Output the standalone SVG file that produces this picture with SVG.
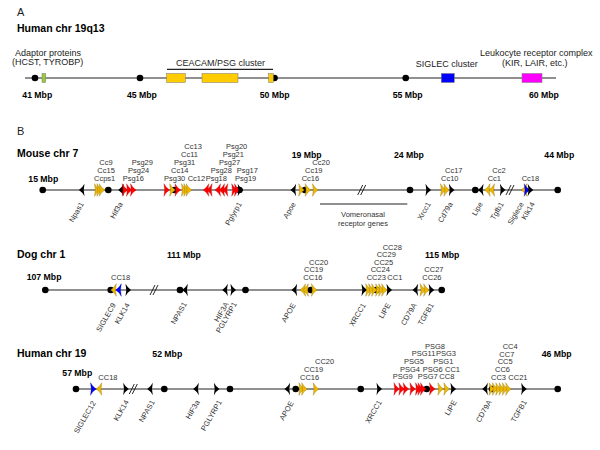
<svg xmlns="http://www.w3.org/2000/svg" xmlns:xlink="http://www.w3.org/1999/xlink" width="600" height="450" viewBox="0 0 600 450">
<style>
text{font-family:"Liberation Sans",Arial,sans-serif}
.t{font-size:7.5px;fill:#333}
.e{text-anchor:end}
.mb{font-size:8.7px;font-weight:bold;fill:#000}
.ttl{font-size:10.5px;font-weight:bold;fill:#000}
.pa{font-size:9px;fill:#222}
.chr{stroke:#222;stroke-width:1.2;fill:none}
.brk{stroke:#111;stroke-width:0.9;fill:none}
.y{fill:#EDB600;stroke:#8b6f00;stroke-width:0.35}
.r{fill:#FF0000;stroke:#a00;stroke-width:0.3}
.k{fill:#000}
.b{fill:#0000FF;stroke:#006;stroke-width:0.3}
.box{stroke:#777;stroke-width:0.5}
</style>
<defs>
<path id="R" d="M-2.8,-6.3 Q-0.5,-2 2.8,0 Q-0.5,2 -2.8,6.3 Q-1.2,0 -2.8,-6.3Z"/>
<path id="L" d="M2.8,-6.3 Q0.5,-2 -2.8,0 Q0.5,2 2.8,6.3 Q1.2,0 2.8,-6.3Z"/>
<circle id="D" r="3.3" fill="#000"/>
<path id="BR" class="brk" d="M-4,5 L1,-5 M-1,5 L4,-5"/>
</defs>

<!-- Panel A -->
<g id="panelA">
<text x="17" y="15.5" style="font-size:11px" fill="#222">A</text>
<text class="ttl" x="17" y="32">Human chr 19q13</text>
<g id="connectors-A">
<line class="chr" x1="25" y1="78" x2="556" y2="78"/>
<line class="chr" x1="167" y1="69.3" x2="273" y2="69.3"/>
</g>
<use href="#D" x="35" y="78"/>
<use href="#D" x="140" y="78"/>
<use href="#D" x="274.5" y="78"/>
<use href="#D" x="405.7" y="78"/>
<g id="adaptor"><rect class="box" x="42" y="73.5" width="3.7" height="9" fill="#99CC33"/>
<text class="pa" x="15" y="55.5">Adaptor proteins</text>
<text class="pa" x="12" y="65">(HCST, TYROBP)</text></g>
<g id="ceacam"><rect class="box" x="166.7" y="73.5" width="18.6" height="9" fill="#FFCC00"/>
<rect class="box" x="202" y="73.5" width="36" height="9" fill="#FFCC00"/>
<rect class="box" x="268.7" y="73.5" width="4.6" height="9" fill="#FFCC00"/>
<text class="pa" x="176" y="66">CEACAM/PSG cluster</text></g>
<g id="siglec"><rect class="box" x="441.3" y="73.5" width="13" height="9" fill="#0000FF"/>
<text class="pa" x="415.7" y="66.5">SIGLEC cluster</text></g>
<g id="lrc"><rect class="box" x="522" y="73.5" width="20" height="9" fill="#FF00FF"/>
<text class="pa" x="480" y="56">Leukocyte receptor complex</text>
<text class="pa" x="502" y="66">(KIR, LAIR, etc.)</text></g>
<text class="mb" x="22.3" y="97.5">41 Mbp</text>
<text class="mb" x="127" y="97.5">45 Mbp</text>
<text class="mb" x="259.7" y="97.5">50 Mbp</text>
<text class="mb" x="392.7" y="97.5">55 Mbp</text>
<text class="mb" x="529" y="97.5">60 Mbp</text>
</g>

<text x="17" y="135" style="font-size:11px" fill="#222">B</text>

<!-- Mouse chr 7 -->
<g id="mouse">
<text class="ttl" x="17" y="157">Mouse chr 7</text>
<g id="connectors-mouse">
<line class="chr" x1="42.7" y1="190" x2="557.7" y2="190"/>
<line class="chr" x1="320" y1="204" x2="407.3" y2="204"/>
<use href="#BR" x="361.7" y="190"/>
<use href="#BR" x="510" y="190"/>
</g>
<g id="mouse-dots">
<use href="#D" x="42.7" y="190"/><use href="#D" x="108.3" y="190"/><use href="#D" x="174.5" y="190"/><use href="#D" x="239.5" y="190"/>
<use href="#D" x="305" y="190"/><use href="#D" x="410" y="190"/><use href="#D" x="475.3" y="190"/><use href="#D" x="557.7" y="190"/>
</g>
<g id="mouse-genes">
<use href="#L" class="k" x="81.7" y="190"/>
<use href="#R" class="y" x="97.3" y="190"/><use href="#R" class="y" x="99.7" y="190"/><use href="#R" class="y" x="102" y="190"/>
<use href="#L" class="k" x="121" y="190"/>
<use href="#R" class="r" x="125" y="190"/><use href="#R" class="r" x="129.3" y="190"/><use href="#R" class="r" x="133.3" y="190"/>
<use href="#R" class="r" x="166.7" y="190"/><use href="#R" class="y" x="172.5" y="190"/><use href="#R" class="r" x="177.8" y="190"/>
<use href="#R" class="y" x="184.3" y="190"/><use href="#R" class="y" x="186.7" y="190"/><use href="#R" class="y" x="189" y="190"/>
<use href="#L" class="r" x="206" y="190"/><use href="#L" class="r" x="209.3" y="190"/>
<use href="#L" class="r" x="217.7" y="190"/><use href="#L" class="r" x="221.7" y="190"/><use href="#L" class="r" x="225" y="190"/>
<use href="#R" class="r" x="234.5" y="190"/><use href="#R" class="r" x="237.3" y="190"/><use href="#R" class="k" x="240.5" y="190"/>
<use href="#L" class="k" x="293.3" y="190"/>
<use href="#R" class="y" x="301.5" y="190"/><use href="#R" class="y" x="308" y="190"/><use href="#R" class="y" x="315.3" y="190"/>
<use href="#R" class="k" x="428.3" y="190"/>
<use href="#R" class="y" x="443.3" y="190"/><use href="#R" class="y" x="446.7" y="190"/><use href="#R" class="k" x="451.7" y="190"/>
<use href="#L" class="k" x="480.7" y="190"/>
<use href="#L" class="y" x="487.3" y="190"/><use href="#L" class="y" x="491.7" y="190"/>
<use href="#R" class="k" x="502.7" y="190"/>
<use href="#L" class="y" x="524" y="190"/><use href="#R" class="b" x="527" y="190"/><use href="#R" class="k" x="530.5" y="190"/>
</g>
<g id="mouse-labels">
<text class="mb" x="28.3" y="182">15 Mbp</text>
<text class="mb" x="291.7" y="157.5">19 Mbp</text>
<text class="mb" x="394" y="157.5">24 Mbp</text>
<text class="mb" x="544.3" y="157.5">44 Mbp</text>
<text class="t" x="99.3" y="165">Cc9</text><text class="t" x="97.3" y="173">Cc15</text><text class="t" x="94" y="181">Ccps1</text>
<text class="t" x="131.7" y="165">Psg29</text><text class="t" x="128" y="173">Psg24</text><text class="t" x="122.7" y="181">Psg16</text>
<text class="t" x="184.3" y="149">Cc13</text><text class="t" x="181" y="157">Cc11</text><text class="t" x="174" y="165">Psg31</text><text class="t" x="171" y="173">Cc14</text><text class="t" x="164" y="181">Psg30</text>
<text class="t" x="187.7" y="181">Cc12</text>
<text class="t" x="226" y="149">Psg20</text><text class="t" x="222.7" y="157">Psg21</text><text class="t" x="219" y="165">Psg27</text><text class="t" x="210.7" y="173">Psg28</text><text class="t" x="205.7" y="181">Psg18</text>
<text class="t" x="236.7" y="173">Psg17</text><text class="t" x="235" y="181">Psg19</text>
<text class="t" x="312.3" y="165">Cc20</text><text class="t" x="305" y="173">Cc19</text><text class="t" x="301.7" y="181">Cc16</text>
<text class="t" x="445" y="173">Cc17</text><text class="t" x="441" y="181">Cc10</text>
<text class="t" x="492.3" y="173">Cc2</text><text class="t" x="487.7" y="181">Cc1</text>
<text class="t" x="521.7" y="181">Cc18</text>
<text class="t" x="363" y="217" text-anchor="middle">Vomeronasal</text>
<text class="t" x="363" y="225.5" text-anchor="middle">receptor genes</text>
<text class="t e" transform="translate(84,204) rotate(-60)">Npas1</text>
<text class="t e" transform="translate(123,204) rotate(-60)">Hif3a</text>
<text class="t e" transform="translate(242,204) rotate(-60)">Pglyrp1</text>
<text class="t e" transform="translate(296,204) rotate(-60)">Apoe</text>
<text class="t e" transform="translate(431,204) rotate(-60)">Xrcc1</text>
<text class="t e" transform="translate(453,204) rotate(-60)">Cd79a</text>
<text class="t e" transform="translate(483,204) rotate(-60)">Lipe</text>
<text class="t e" transform="translate(504,204) rotate(-60)">Tgfb1</text>
<text class="t e" transform="translate(524,204) rotate(-60)">Siglece</text>
<text class="t e" transform="translate(535,204) rotate(-60)">Klk14</text>
</g>
</g>

<!-- Dog chr 1 -->
<g id="dog">
<text class="ttl" x="17" y="258">Dog chr 1</text>
<g id="connectors-dog">
<line class="chr" x1="45.3" y1="290" x2="441.7" y2="290"/>
<use href="#BR" x="154" y="290"/>
</g>
<g id="dog-dots">
<use href="#D" x="45.3" y="290"/><use href="#D" x="110.7" y="290"/><use href="#D" x="180" y="290"/><use href="#D" x="245.5" y="290"/>
<use href="#D" x="310.8" y="290"/><use href="#D" x="376.2" y="290"/><use href="#D" x="441.7" y="290"/>
</g>
<g id="dog-genes">
<use href="#L" class="y" x="113.5" y="290"/><use href="#L" class="b" x="118.5" y="290"/><use href="#R" class="k" x="128.3" y="290"/>
<use href="#L" class="k" x="185" y="290"/>
<use href="#L" class="k" x="225" y="290"/><use href="#R" class="k" x="233.3" y="290"/>
<use href="#L" class="k" x="294.3" y="290"/>
<use href="#L" class="y" x="302.7" y="290"/><use href="#L" class="y" x="305.5" y="290"/><use href="#R" class="y" x="314.3" y="290"/>
<use href="#R" class="k" x="364.3" y="290"/>
<use href="#R" class="y" x="368.5" y="290"/><use href="#R" class="y" x="371.5" y="290"/><use href="#R" class="y" x="374.5" y="290"/>
<use href="#R" class="y" x="378.5" y="290"/><use href="#R" class="y" x="381.5" y="290"/><use href="#R" class="y" x="384.5" y="290"/>
<use href="#R" class="k" x="389.3" y="290"/>
<use href="#L" class="k" x="415.3" y="290"/>
<use href="#R" class="y" x="423" y="290"/><use href="#R" class="y" x="426.5" y="290"/><use href="#R" class="k" x="431.5" y="290"/>
</g>
<g id="dog-labels">
<text class="mb" x="26.7" y="280">107 Mbp</text>
<text class="mb" x="167" y="258">111 Mbp</text>
<text class="mb" x="425" y="258.3">115 Mbp</text>
<text class="t" x="111" y="279.5" fill="#555">CC18</text>
<text class="t" x="309" y="264.8">CC20</text><text class="t" x="304" y="272.4">CC19</text><text class="t" x="303.3" y="280">CC16</text>
<text class="t" x="382.7" y="249.6">CC28</text><text class="t" x="376.7" y="257.2">CC29</text><text class="t" x="374" y="264.8">CC25</text><text class="t" x="370.7" y="272.4">CC24</text>
<text class="t" x="366.7" y="280">CC23</text><text class="t" x="387.3" y="280">CC1</text>
<text class="t" x="424.3" y="272.4">CC27</text><text class="t" x="422.3" y="280">CC26</text>
<text class="t e" transform="translate(116,305) rotate(-60)">SIGLEC9</text>
<text class="t e" transform="translate(130,305) rotate(-60)">KLK14</text>
<text class="t e" transform="translate(187,304) rotate(-60)">NPAS1</text>
<text class="t e" transform="translate(229,304) rotate(-60)">HIF3A</text>
<text class="t e" transform="translate(237,304) rotate(-60)">PGLYRP1</text>
<text class="t e" transform="translate(296,305) rotate(-60)">APOE</text>
<text class="t e" transform="translate(366,305) rotate(-60)">XRCC1</text>
<text class="t e" transform="translate(391,305) rotate(-60)">LIPE</text>
<text class="t e" transform="translate(417,305) rotate(-60)">CD79A</text>
<text class="t e" transform="translate(434,305) rotate(-60)">TGFB1</text>
</g>
</g>

<!-- Human chr 19 -->
<g id="human">
<text class="ttl" x="17" y="357">Human chr 19</text>
<g id="connectors-human">
<line class="chr" x1="76" y1="389" x2="557.7" y2="389"/>
<use href="#BR" x="133.3" y="389"/>
</g>
<g id="human-dots">
<use href="#D" x="76" y="389"/><use href="#D" x="164.3" y="389"/><use href="#D" x="230" y="389"/><use href="#D" x="295.7" y="389"/>
<use href="#D" x="360.7" y="389"/><use href="#D" x="426.7" y="389"/><use href="#D" x="492" y="389"/><use href="#D" x="557.7" y="389"/>
</g>
<g id="human-genes">
<use href="#R" class="b" x="93.3" y="389"/><use href="#L" class="y" x="99" y="389"/>
<use href="#R" class="k" x="126" y="389"/>
<use href="#L" class="k" x="150" y="389"/>
<use href="#L" class="k" x="196" y="389"/><use href="#R" class="k" x="216.7" y="389"/>
<use href="#L" class="k" x="287.3" y="389"/>
<use href="#R" class="y" x="301.7" y="389"/><use href="#R" class="y" x="304.5" y="389"/><use href="#R" class="y" x="316" y="389"/>
<use href="#R" class="k" x="379.3" y="389"/>
<use href="#R" class="r" x="396.7" y="389"/><use href="#R" class="r" x="401.7" y="389"/><use href="#R" class="r" x="406" y="389"/>
<use href="#R" class="r" x="412.7" y="389"/><use href="#R" class="r" x="418.3" y="389"/><use href="#R" class="r" x="420.7" y="389"/><use href="#R" class="r" x="423.3" y="389"/>
<use href="#R" class="r" x="432.3" y="389"/>
<use href="#R" class="y" x="440.7" y="389"/><use href="#R" class="y" x="446.7" y="389"/>
<use href="#R" class="k" x="453.3" y="389"/>
<use href="#L" class="k" x="485" y="389"/>
<use href="#R" class="y" x="492" y="389"/><use href="#R" class="y" x="495.3" y="389"/><use href="#R" class="y" x="498.6" y="389"/>
<use href="#R" class="y" x="501.9" y="389"/><use href="#R" class="y" x="505.2" y="389"/><use href="#R" class="y" x="508.5" y="389"/>
<use href="#R" class="k" x="524" y="389"/>
</g>
<g id="human-labels">
<text class="mb" x="152.3" y="357">52 Mbp</text>
<text class="mb" x="541.7" y="357">46 Mbp</text>
<text class="mb" x="62.3" y="376">57 Mbp</text>
<text class="t" x="98.3" y="379.5" fill="#555">CC18</text>
<text class="t" x="315" y="364">CC20</text><text class="t" x="304" y="372">CC19</text><text class="t" x="300" y="379.5">CC16</text>
<text class="t" x="425" y="348.7">PSG8</text>
<text class="t" x="411.7" y="356.3">PSG11</text><text class="t" x="436" y="356.3">PSG3</text>
<text class="t" x="404" y="364">PSG5</text><text class="t" x="433.3" y="364">PSG1</text>
<text class="t" x="400" y="371.6">PSG4</text><text class="t" x="422.7" y="371.6">PSG6</text><text class="t" x="445" y="371.6">CC1</text>
<text class="t" x="392.7" y="379.3">PSG9</text><text class="t" x="417.7" y="379.3">PSG7</text><text class="t" x="439.3" y="379.3">CC8</text>
<text class="t" x="502.7" y="349">CC4</text><text class="t" x="499.3" y="356.5">CC7</text><text class="t" x="497.7" y="364">CC5</text>
<text class="t" x="495" y="372">CC6</text><text class="t" x="491" y="379.5">CC3</text><text class="t" x="508.3" y="379.5">CC21</text>
<text class="t e" transform="translate(96,403) rotate(-60)">SIGLEC12</text>
<text class="t e" transform="translate(129,402) rotate(-60)">KLK14</text>
<text class="t e" transform="translate(155,402) rotate(-60)">NPAS1</text>
<text class="t e" transform="translate(200,402) rotate(-60)">HIF3a</text>
<text class="t e" transform="translate(222,402) rotate(-60)">PGLYRP1</text>
<text class="t e" transform="translate(294,403) rotate(-60)">APOE</text>
<text class="t e" transform="translate(382,402) rotate(-60)">XRCC1</text>
<text class="t e" transform="translate(457,402) rotate(-60)">LIPE</text>
<text class="t e" transform="translate(492,402) rotate(-60)">CD79A</text>
<text class="t e" transform="translate(527,402) rotate(-60)">TGFB1</text>
</g>
</g>
</svg>
